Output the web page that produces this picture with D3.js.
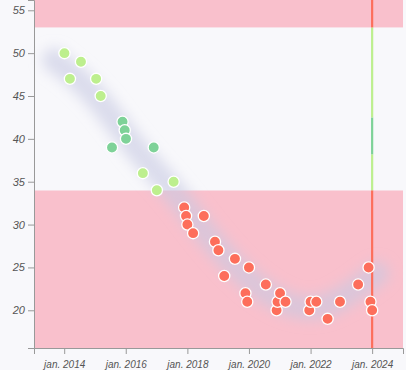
<!DOCTYPE html>
<html>
<head>
<meta charset="utf-8">
<script src="https://cdn.jsdelivr.net/npm/d3@7"></script>
<style>
  body { margin: 0; background: #f8f8fb; }
  .axis text { font-family: "Liberation Sans", Arial, sans-serif; font-style: italic; fill: #555; }
  .axis path, .axis line { stroke: #999; }
</style>
</head>
<body>
<div id="graph_box"></div>
<script>
// survey dates and values
const dates = ["2014-01-04", "2014-03-10", "2014-07-19", "2015-01-15", "2015-03-10", "2015-07-22",
  "2015-11-24", "2015-12-20", "2016-01-04", "2016-07-22", "2016-11-28", "2017-01-04", "2017-07-22",
  "2017-11-24", "2017-12-16", "2018-01-01", "2018-03-10", "2018-07-15", "2018-11-24", "2019-01-04",
  "2019-03-14", "2019-07-19", "2019-11-20", "2019-12-12", "2020-01-01", "2020-07-19", "2020-11-24",
  "2020-12-05", "2021-01-04", "2021-03-10", "2021-12-16", "2022-01-01", "2022-03-10", "2022-07-22",
  "2022-12-16", "2023-07-19", "2023-11-20", "2023-12-12", "2024-01-01"];
const values = [50, 47, 49, 47, 45, 39,
  42, 41, 40, 36, 39, 34, 35,
  32, 31, 30, 29, 31, 28, 27,
  24, 26, 22, 21, 25, 23, 20,
  21, 22, 21, 20, 21, 21, 19,
  21, 23, 25, 21, 20];

// smooth trend band
const trendDates = ["2013-09-01", "2014-05-10", "2015-03-01", "2015-12-25", "2016-10-15", "2017-08-07",
  "2018-05-25", "2019-03-14", "2020-01-01", "2020-10-20", "2021-08-07", "2022-05-25", "2023-03-14",
  "2023-11-10", "2024-03-01"];
const trendValues = [49.2, 47.4, 44.5, 40.4, 36.9, 33.8, 29.9, 26.4, 23.5, 21.4, 20.2, 20.2, 21.7, 23.5, 24.3];

// colour zones: [from, to, colour]
const zoneFrom = [15.6, 34, 38.2, 42.5, 53];
const zoneTo = [34, 38.2, 42.5, 53, 56.2];
const zoneColor = ["#fd6e5b", "#bdef8e", "#7ed298", "#bdef8e", "#fd6e5b"];
const bandFill = ["#f9c0cc", "#f8f8fb", "#f8f8fb", "#f8f8fb", "#f9c0cc"];

const currentDate = "2024-01-01";
const yTicks = [20, 25, 30, 35, 40, 45, 50, 55];

const W = 406, H = 370;
const margin = { top: 0, right: 3, bottom: 22, left: 34 };
const width = W - margin.left - margin.right,
  height = H - margin.top - margin.bottom;

const parse = d3.timeParse("%Y-%m-%d");
const months = ["jan.", "feb.", "mar.", "apr.", "mai", "jun.", "jul.", "aug.", "sep.", "okt.", "nov.", "des."];

const svg = d3.select("#graph_box")
  .append("svg")
  .attr("width", W)
  .attr("height", H)
  .append("g")
  .attr("transform", `translate(${margin.left},${margin.top})`);

const x = d3.scaleTime()
  .domain([parse("2013-01-08"), parse("2025-01-01")])
  .range([0, width]);

const y = d3.scaleLinear()
  .domain([15.6, 56.2])
  .range([height, 0]);

function zoneOf(v) {
  for (let i = 0; i < zoneFrom.length; i++) {
    if (v >= zoneFrom[i] && v < zoneTo[i]) return i;
  }
  return zoneFrom.length - 1;
}

// background bands
svg.selectAll("rect.band")
  .data(zoneFrom)
  .enter()
  .append("rect")
  .attr("class", "band")
  .attr("x", 0)
  .attr("width", width)
  .attr("y", (d, i) => y(zoneTo[i]))
  .attr("height", (d, i) => y(d) - y(zoneTo[i]))
  .style("fill", (d, i) => bandFill[i]);

// blurred trend
const defs = svg.append("defs");
defs.append("filter")
  .attr("id", "blur")
  .attr("x", "-20%").attr("y", "-20%").attr("width", "140%").attr("height", "140%")
  .append("feGaussianBlur")
  .attr("stdDeviation", 6.5);

const trend = trendDates.map((d, i) => [parse(d), trendValues[i]]);
svg.append("path")
  .datum(trend)
  .attr("d", d3.line()
    .x(d => x(d[0]))
    .y(d => y(d[1]))
    .curve(d3.curveBasis))
  .attr("fill", "none")
  .attr("stroke", "#c8cae2")
  .attr("stroke-opacity", 0.6)
  .attr("stroke-width", 24)
  .attr("stroke-linecap", "round")
  .attr("filter", "url(#blur)");

// current date line, coloured by zone
svg.selectAll("line.now")
  .data(zoneFrom)
  .enter()
  .append("line")
  .attr("class", "now")
  .attr("x1", x(parse(currentDate)))
  .attr("x2", x(parse(currentDate)))
  .attr("y1", (d, i) => y(zoneTo[i]))
  .attr("y2", d => y(d))
  .attr("stroke", (d, i) => zoneColor[i])
  .attr("stroke-width", 2.2);

// axes
svg.append("g")
  .attr("class", "axis")
  .attr("transform", "translate(0," + height + ")")
  .call(d3.axisBottom(x)
    .ticks(d3.timeYear.every(2))
    .tickFormat(d => months[d.getMonth()] + " " + d.getFullYear()))
  .selectAll("text")
  .style("font-size", "10px")
  .attr("dy", "1.05em");

svg.append("g")
  .attr("class", "axis")
  .call(d3.axisLeft(y).tickValues(yTicks))
  .selectAll("text")
  .style("font-size", "11px");

// points
const points = dates.map((d, i) => ({ date: parse(d), value: values[i] }));
svg.selectAll("circle.pt")
  .data(points)
  .enter()
  .append("circle")
  .attr("class", "pt")
  .attr("cx", d => x(d.date))
  .attr("cy", d => y(d.value))
  .attr("r", 5.6)
  .style("fill", d => zoneColor[zoneOf(d.value)])
  .style("stroke", "#fff")
  .style("stroke-width", 1.3);
</script>
</body>
</html>
